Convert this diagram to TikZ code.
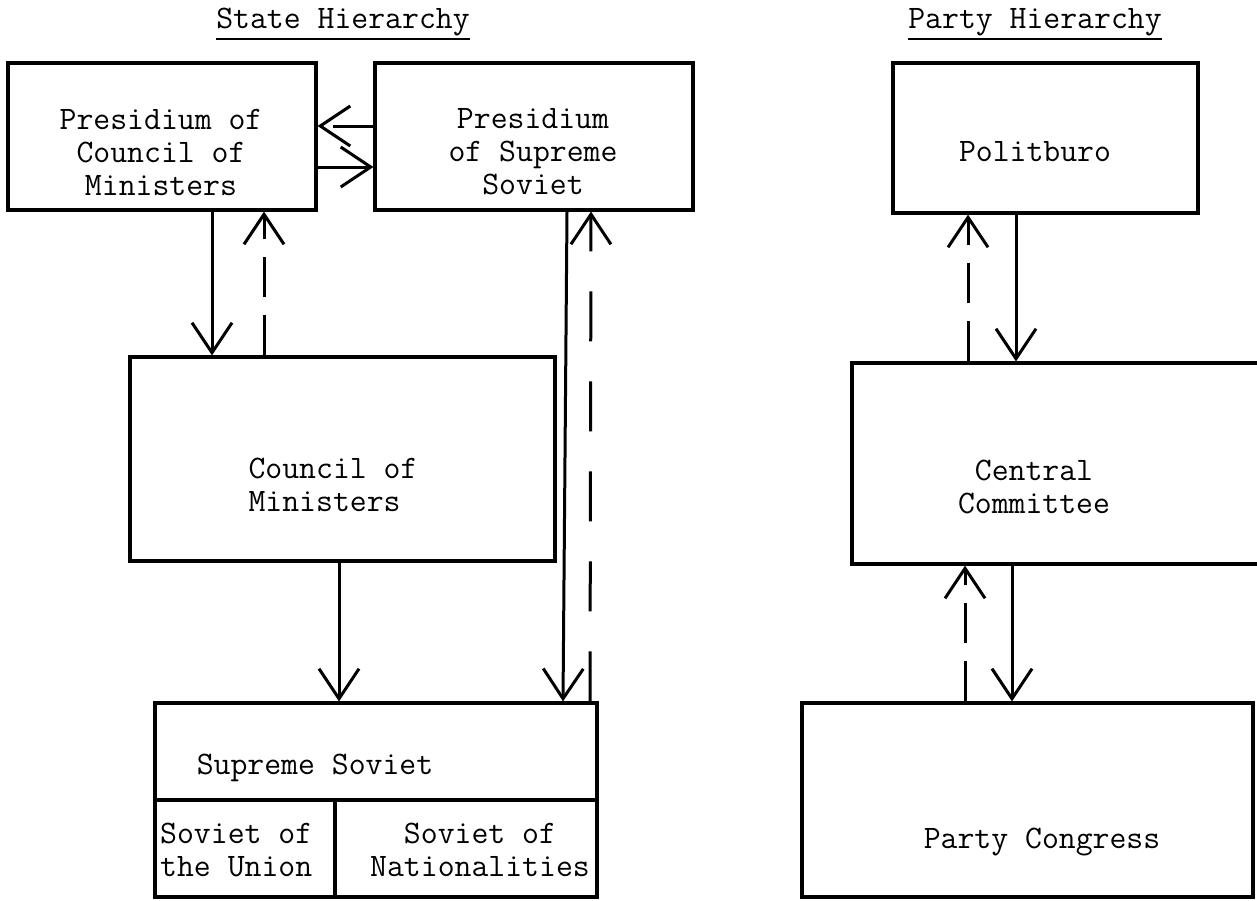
\documentclass[tikz,border=0pt]{standalone}
\usepackage{fontspec}
\usetikzlibrary{arrows.meta}

\begin{document}
\begin{tikzpicture}[x=1pt, y=-1pt,
    >={Straight Barb[length=30pt, width=40pt]},
    box/.style={draw, rectangle, line width=3.2pt, inner sep=0pt},
    lbl/.style={font=\ttfamily\fontsize{32.8pt}{33pt}\selectfont, align=center, inner sep=0pt},
    uline/.style={line width=2.6pt},
    flow/.style={line width=3pt},
    back/.style={dash pattern=on 40pt off 18pt}]
    \useasboundingbox (0,0) rectangle (1257,900);

    % titles
    \node[lbl] (stt) at (343,22) {State Hierarchy};
    \node[lbl] (ptt) at (1035,22) {Party Hierarchy};
    \draw[uline] ([yshift=-3pt]stt.south west) -- ([yshift=-3pt]stt.south east);
    \draw[uline] ([yshift=-3pt]ptt.south west) -- ([yshift=-3pt]ptt.south east);

    % state hierarchy
    \node[box, minimum width=308pt, minimum height=147pt] (pcm) at (162,136.5) {};
    \node[box, minimum width=318pt, minimum height=147pt] (pss) at (534,136.5) {};
    \node[box, minimum width=425pt, minimum height=204pt] (cm) at (342.5,459) {};
    \node[box, minimum width=442pt, minimum height=194pt] (ss) at (376,800) {};
    \coordinate (ssmid) at (335,800);
    \draw[box] (ss.west |- ssmid) -- (ss.east |- ssmid);
    \draw[box] (ssmid) -- (ssmid |- ss.south);

    \node[lbl] (pcmt) at (161,152) {Presidium of\\Council of\\Ministers};
    \node[lbl] (psst) at (533,152) {Presidium\\of Supreme\\Soviet};
    \node[lbl, align=left] (cmt) at (333,485) {Council of\\Ministers};
    \node[lbl] (sst) at (315,768) {Supreme Soviet};
    \node[lbl, align=left, anchor=west] (sout) at (160,850) {Soviet of\\the Union};
    \node[lbl] (sont) at (480,850) {Soviet of\\Nationalities};

    % party hierarchy
    \node[box, minimum width=305pt, minimum height=150pt] (pb) at (1045.5,138) {};
    \node[box, minimum width=423pt, minimum height=201pt] (cc) at (1063.5,463.5) {};
    \node[box, minimum width=451pt, minimum height=194pt] (pc) at (1027.5,800) {};

    \node[lbl] (pbt) at (1035,152) {Politburo};
    \node[lbl] (cct) at (1034,487) {Central\\Committee};
    \node[lbl] (pct) at (1042,842) {Party Congress};

    \path[->, flow]
      (pcm.south -| 212,0) edge (cm.north -| 212,0)
          (cm.north -| 264,0) edge[back] (pcm.south -| 264,0)
      (pss.west |- 0,126) edge[back] (pcm.east |- 0,126)
          (pcm.east |- 0,167) edge (pss.west |- 0,167)
      (pss.south -| 567,0) edge (ss.north -| 563,0)
          (ss.north -| 590,0) edge[back, dash pattern=on 50pt off 40pt] (pss.south -| 591,0)
      (cm.south -| 339,0) edge (ss.north -| 339,0)
      (pb.south -| 1016,0) edge (cc.north -| 1016,0)
          (cc.north -| 968,0) edge[back] (pb.south -| 968,0)
      (cc.south -| 1012,0) edge (pc.north -| 1012,0)
          (pc.north -| 965,0) edge[back] (cc.south -| 965,0);
\end{tikzpicture}
\end{document}
